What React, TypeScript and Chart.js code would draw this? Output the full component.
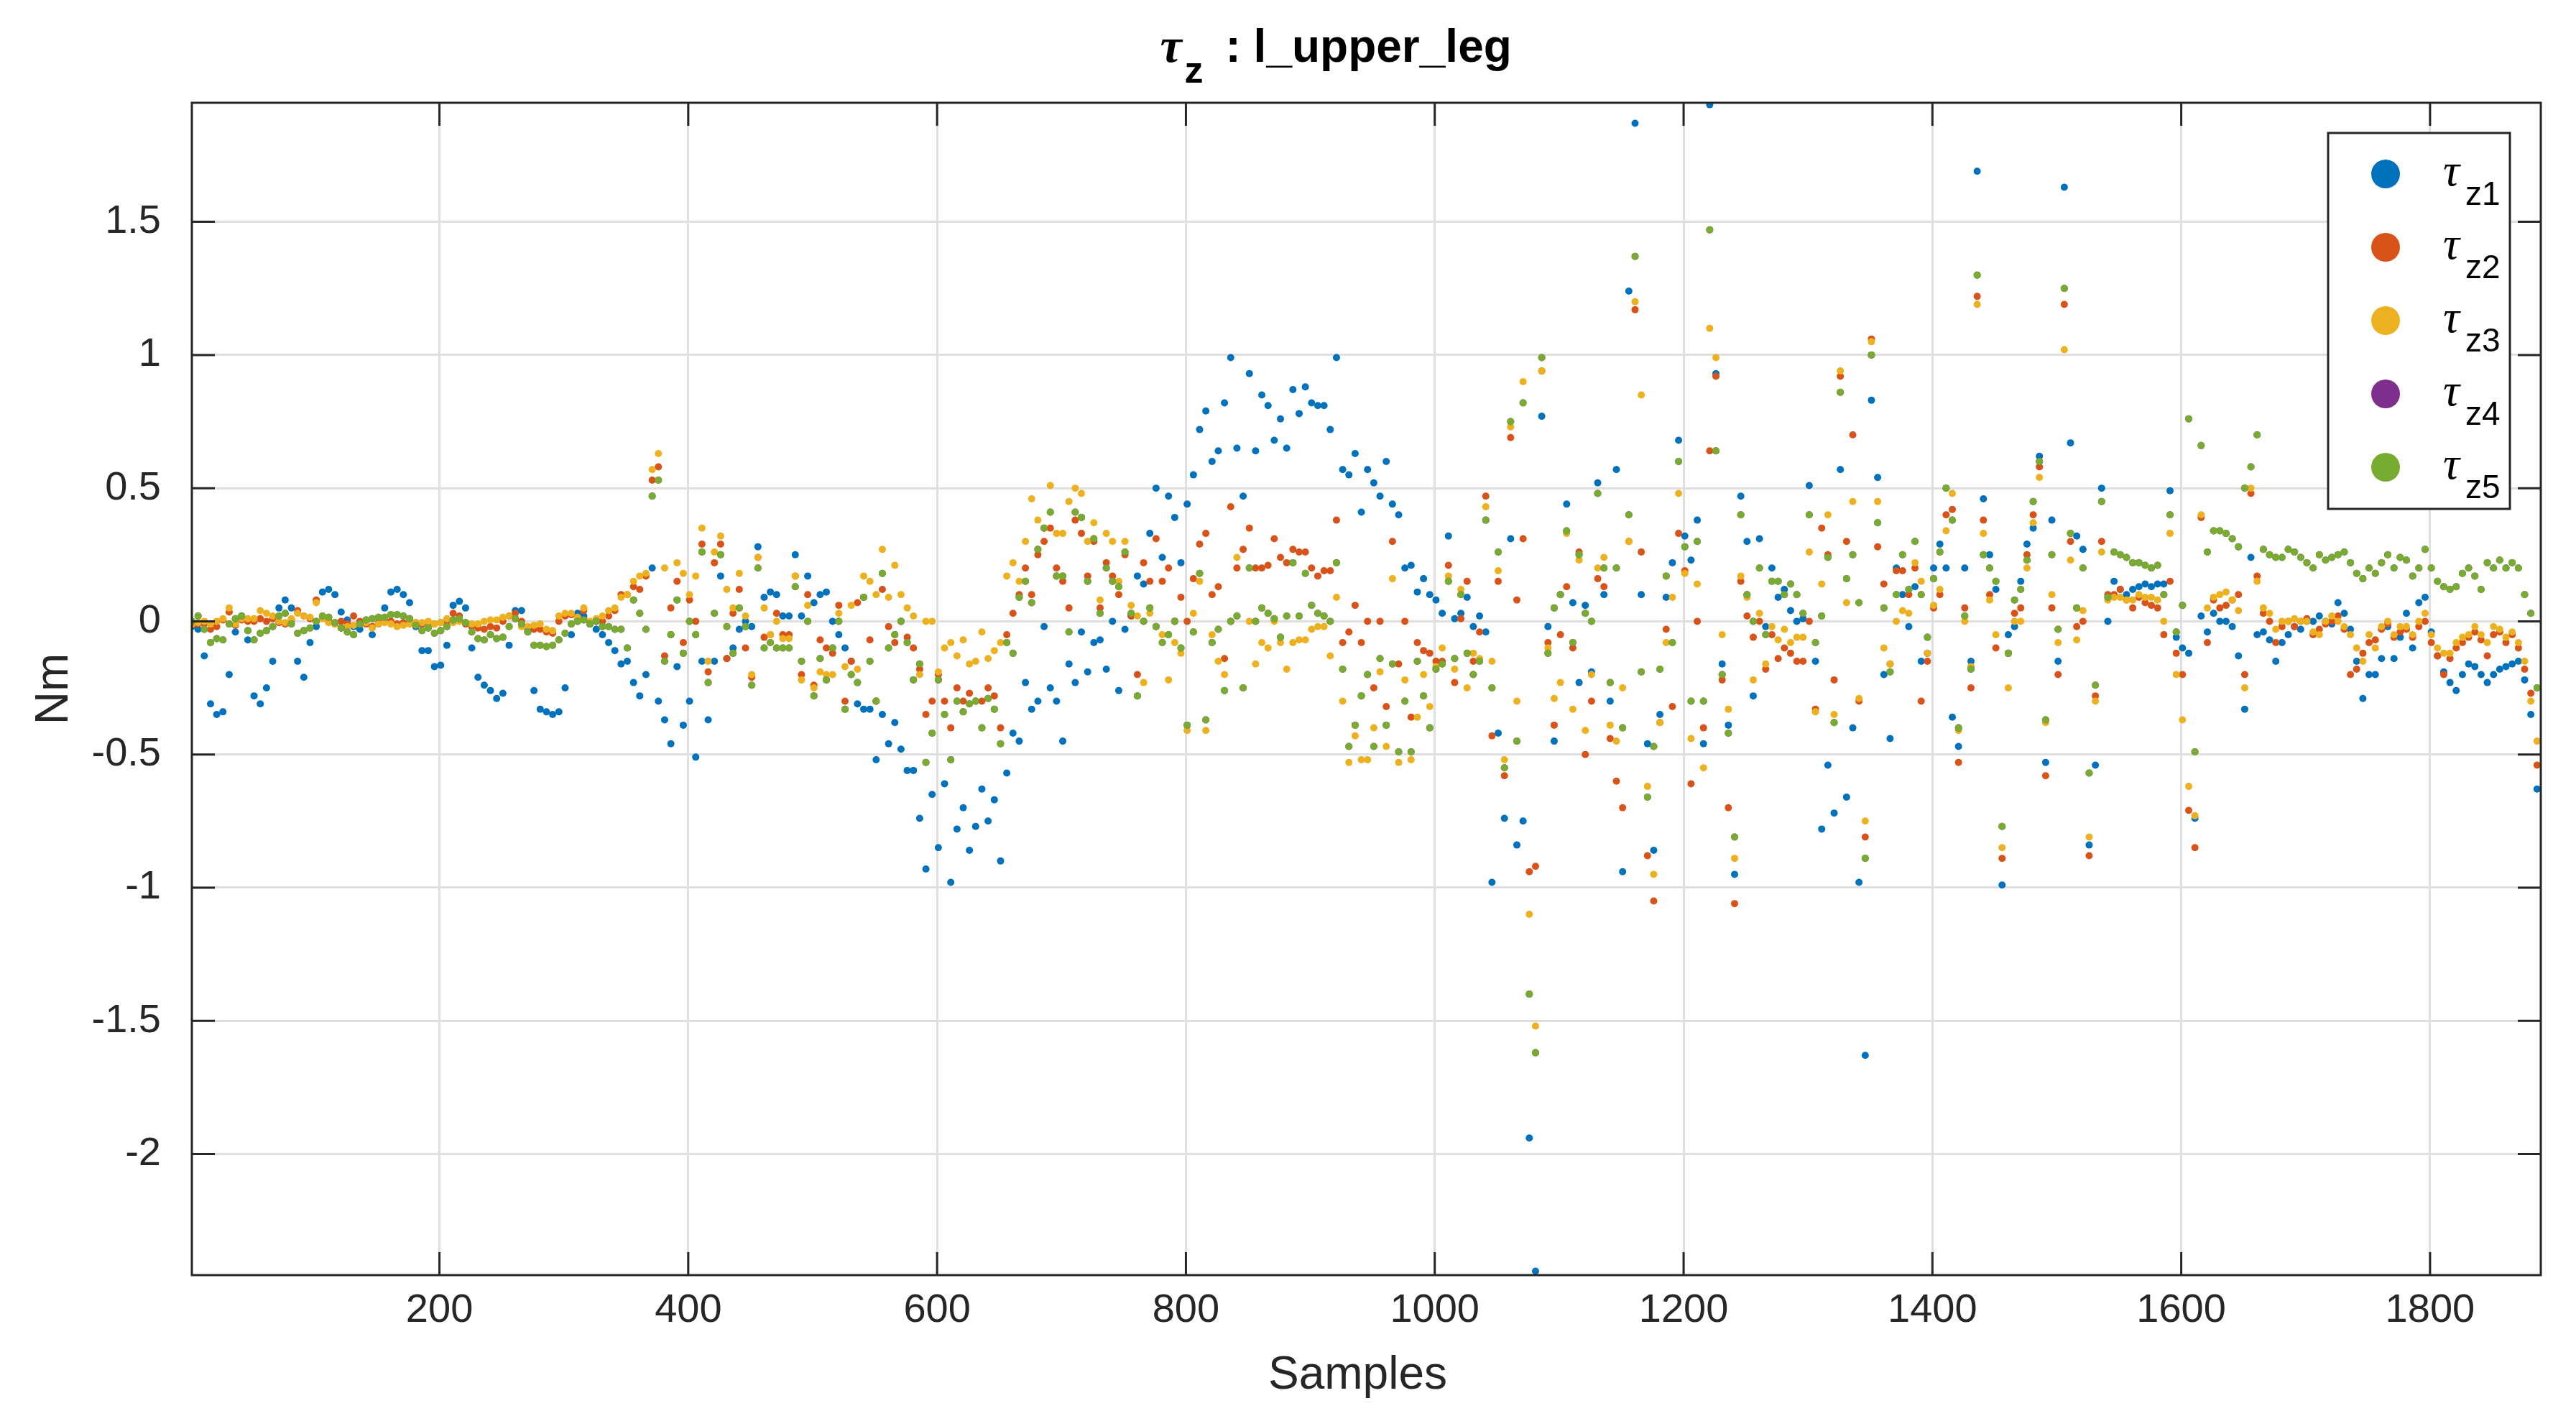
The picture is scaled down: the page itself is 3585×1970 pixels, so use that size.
import { useEffect, useRef } from 'react';
import { Chart, registerables } from 'chart.js';

Chart.register(...registerables);

// samples are read every 5th index, starting at 1
const firstSample = 1;
const sampleStep = 5;
const xTicks = [200, 400, 600, 800, 1000, 1200, 1400, 1600, 1800];
const yTicks = [-2, -1.5, -1, -0.5, 0, 0.5, 1, 1.5];

const tauZ1 = [
  -0.02, -0.03, -0.13, -0.31, -0.35, -0.34, -0.2, -0.04, 0.02, -0.07,
  -0.28, -0.31, -0.25, -0.15, 0.05, 0.08, 0.05, -0.15, -0.21, -0.08,
  -0.02, 0.11, 0.12, 0.1, 0.035, 0.005, -0.02, -0.03, 0, -0.05,
  -0.01, 0.05, 0.11, 0.12, 0.1, 0.07, -0.02, -0.11, -0.11, -0.17,
  -0.165, -0.09, 0.06, 0.075, 0.05, -0.1, -0.21, -0.24, -0.26, -0.29,
  -0.27, -0.09, 0.04, 0.04, -0.03, -0.26, -0.33, -0.34, -0.35, -0.34,
  -0.25, -0.05, 0.03, 0.02,
  -0.01, -0.03, -0.05, -0.08, -0.11, -0.16, -0.15, -0.23, -0.28, -0.2,
  0.2, -0.3, -0.37, -0.46, -0.17, -0.39, -0.3, -0.51, -0.15, -0.37,
  -0.15, 0.17, -0.14, -0.1, -0.03, 0, -0.02, 0.28, 0.09, 0.11,
  0.1, 0.02, 0.02, 0.25, 0.02, 0.17, 0.07, 0.1, 0.11, 0,
  -0.05, -0.1, -0.15, -0.31, -0.33, -0.33, -0.52, -0.35, -0.46, -0.38,
  -0.48, -0.56,
  -0.56, -0.74, -0.93, -0.65, -0.85, -0.61, -0.98, -0.78, -0.7, -0.86,
  -0.77, -0.63, -0.75, -0.67, -0.9, -0.57, -0.42, -0.45, -0.23, -0.33,
  -0.3, -0.02, -0.25, -0.3, -0.45, -0.16, -0.23, -0.04, -0.19, -0.08,
  -0.07, -0.18, 0, -0.26, -0.03, 0.02, 0.17, 0.14, 0.33, 0.5,
  0.24, 0.47, 0.39, 0.22, 0.44, 0.55, 0.72, 0.79, 0.6, 0.64,
  0.82, 0.99, 0.65, 0.47, 0.93,
  0.64, 0.85, 0.81, 0.68, 0.76, 0.65, 0.87, 0.78, 0.88, 0.82,
  0.81, 0.81, 0.72, 0.99, 0.57, 0.55, 0.63, 0.41, 0.57, 0.52,
  0.47, 0.6, 0.44, 0.4, 0.2, 0.21, 0.11, 0.16, 0.1, 0.08,
  0.03, 0.32, 0.01, 0.03, 0.09, -0.02, 0.02, -0.04, -0.98, -0.42,
  -0.74, 0.31, -0.84, -0.75, -1.94, -2.44, 0.77, -0.02, -0.45, 0.1,
  0.44, 0.07, -0.23, 0.06,
  -0.19, 0.52, 0.1, -0.3, 0.57, -0.94, 1.24, 1.87, 0.1, -0.46,
  -0.86, -0.35, 0.09, 0.22, 0.68, 0.32, 0.23, 0.38, -0.46, 1.94,
  0.93, -0.16, -0.39, -0.95, 0.47, 0.3, -0.28, 0.31, -0.02, 0.2,
  0.09, 0.12, 0.04, 0, 0.01, 0.51, -0.15, -0.78, -0.54, -0.72,
  0.57, -0.66, -0.4, -0.98, -1.63, 0.83, 0.54, -0.2, -0.44, 0.2,
  0.1, -0.02, 0.13, -0.15,
  -0.12, 0.2, 0.29, 0.2, -0.36, -0.47, 0.2, -0.15, 1.69, 0.46,
  0.25, 0.12, -0.99, -0.05, -0.02, 0.15, 0.29, 0.35, 0.62, -0.53,
  0.38, -0.15, 1.63, 0.67, 0.32, 0.27, -0.84, -0.54, 0.5, 0,
  0.15, 0.12, 0.1, 0.12, 0.13, 0.14, 0.13, 0.14, 0.14, 0.49,
  -0.06, -0.1, -0.12, -0.74, 0.02, -0.04, 0.03, 0, 0, -0.02,
  -0.13, -0.33, 0.24, -0.05,
  -0.04, -0.07, -0.15, -0.08, -0.05, -0.02, -0.03, 0, 0, 0.02,
  0, -0.01, 0.07, 0.03, -0.03, -0.15, -0.29, -0.2, -0.2, -0.14,
  -0.02, -0.14, -0.06, 0.03, -0.1, 0.07, 0.09, -0.04, -0.13, -0.19,
  -0.23, -0.26, -0.2, -0.16, -0.17, -0.2, -0.23, -0.2, -0.18, -0.17,
  -0.16, -0.15, -0.22, -0.35, -0.63,
];

const tauZ2 = [
  -0.015, -0.01, -0.01, -0.03, -0.02, 0.005, 0.035, -0.015, 0.005, 0,
  0, 0.01, 0, 0.01, -0.005, -0.01, 0.005, 0.04, 0.02, 0.01,
  0.08, 0.015, 0, -0.01, 0, -0.01, 0.02, 0, -0.01, -0.02,
  -0.005, 0, 0, -0.01, -0.005, 0.01, -0.005, -0.01, -0.005, -0.01,
  -0.005, 0, 0.03, 0.02, -0.01, -0.02, -0.025, -0.03, -0.02, -0.025,
  0, 0.02, 0.03, 0, -0.02, -0.03, -0.03, -0.04, -0.045, 0,
  0.02, 0.025, 0.01, 0.04,
  -0.01, 0, 0, 0.02, 0.04, 0.1, 0.1, 0.13, 0.12, 0.17,
  0.53, 0.58, -0.13, 0.05, 0.15, -0.08, 0.08, 0, 0.29, -0.19,
  0.22, 0.29, -0.14, 0.03, 0.12, -0.1, -0.21, 0.24, -0.06, -0.05,
  0.03, -0.05, -0.05, 0.17, -0.2, 0.1, -0.24, -0.07, -0.1, -0.12,
  0.06, -0.3, -0.15, 0.07, 0.09, -0.07, -0.3, 0.12, -0.02, -0.08,
  0, -0.06,
  -0.1, -0.18, -0.35, -0.3, -0.2, -0.3, -0.4, -0.25, -0.3, -0.27,
  -0.3, -0.3, -0.25, -0.28, -0.4, -0.05, 0.03, 0.1, 0.2, 0.1,
  0.25, 0.3, 0.35, 0.2, 0.15, 0.05, 0.38, 0.33, 0.17, 0.3,
  0.05, 0.22, 0.17, 0.1, 0.25, 0.02, -0.2, 0.22, 0.15, 0.31,
  0.15, 0.2, 0, 0.09, 0, 0.16, 0.29, 0.33, 0.1, 0.13,
  -0.14, 0.43, 0.2, 0.27, 0.35,
  0.2, 0.2, 0.21, 0.31, 0.24, 0.22, 0.27, 0.26, 0.26, 0.2,
  0.17, 0.19, 0.19, 0.38, -0.08, -0.04, 0.06, -0.08, 0, -0.25,
  0, -0.32, 0.3, -0.16, 0, -0.36, -0.08, -0.11, -0.12, -0.15,
  -0.15, 0.21, -0.23, 0.01, 0.15, -0.15, -0.04, 0.47, -0.43, 0.15,
  -0.58, 0.69, 0.08, 0.31, -0.94, -0.92, 0.94, -0.08, -0.39, -0.05,
  0.13, -0.1, 0.26, -0.5,
  -0.3, 0.16, 0.13, -0.44, -0.6, -0.7, 0.3, 1.17, 0.26, -0.88,
  -1.05, -0.38, -0.03, -0.32, 0.33, 0.19, -0.61, 0, -0.4, 0.64,
  0.92, -0.22, -0.7, -1.06, 0.15, 0.02, -0.06, 0, -0.18, -0.05,
  -0.14, -0.1, -0.12, -0.15, -0.15, 0, -0.33, 0.35, 0.25, -0.22,
  0.92, 0.3, 0.7, -0.3, -0.81, 1.06, 0.28, 0.14, -0.16, 0.19,
  0.19, 0.1, 0.2, -0.3,
  -0.15, 0.05, 0.1, 0.4, 0.42, -0.53, 0.05, -0.25, 1.22, 0.38,
  0.1, -0.1, -0.89, -0.12, 0.03, 0.05, 0.25, 0.4, 0.58, -0.58,
  0.05, -0.2, 1.19, 0.3, -0.02, 0, -0.88, -0.28, 0.3, 0.1,
  0.1, 0.12, 0.08, 0.05, 0.09, 0.07, 0.06, 0.05, -0.05, 0.15,
  -0.12, -0.2, -0.71, -0.85, 0.39, -0.08, 0.08, 0.05, 0.06, 0.08,
  0.1, -0.2, 0.48, 0.17,
  0.03, 0, -0.08, -0.02, 0, -0.02, 0, 0.01, -0.05, -0.03,
  -0.01, 0, 0.02, -0.03, -0.2, -0.18, -0.12, -0.08, -0.07, -0.03,
  -0.01, -0.06, -0.04, -0.03, -0.06, -0.02, 0, -0.08, -0.13, -0.2,
  -0.14, -0.1, -0.08, -0.06, -0.04, -0.07, -0.13, -0.05, -0.04, -0.08,
  -0.05, -0.1, -0.18, -0.27, -0.54,
];

const tauZ3 = [
  -0.01, -0.005, 0, -0.01, 0, 0.01, 0.05, -0.01, 0.01, 0.01,
  0.01, 0.04, 0.03, 0.02, 0, -0.005, 0.01, 0.03, 0.02, 0.015,
  0.07, 0.01, -0.005, -0.01, -0.025, -0.02, -0.015, -0.01, -0.005, -0.025,
  -0.01, -0.005, -0.01, -0.02, -0.015, -0.01, -0.005, -0.005, 0, -0.01,
  -0.005, 0.01, -0.005, 0, -0.005, -0.01, -0.01, 0, 0.005, 0.005,
  0.015, 0.02, 0.01, -0.02, -0.02, -0.015, -0.01, -0.03, -0.035, 0.02,
  0.03, 0.03, 0.015, 0.05,
  0, 0.01, 0.02, 0.04, 0.05, 0.09, 0.1, 0.15, 0.17, 0.18,
  0.57, 0.63, 0.2, -0.05, 0.22, 0.18, 0.1, 0.17, 0.35, -0.15,
  0.26, 0.32, 0.12, 0.05, 0.18, 0.02, -0.2, 0.24, 0.05, -0.05,
  0, -0.065, -0.065, 0.17, -0.22, 0.06, -0.25, -0.19, -0.2, -0.2,
  0.03, -0.17, 0.06, -0.18, 0.17, 0.15, 0.1, 0.27, 0.09, 0.21,
  0.1, 0.05,
  0.02, -0.2, 0, 0, -0.19, -0.1, -0.08, -0.13, -0.07, -0.16,
  -0.15, -0.04, -0.14, -0.11, -0.08, 0.17, 0.22, 0.15, 0.3, 0.46,
  0.38, 0.35, 0.51, 0.33, 0.33, 0.45, 0.5, 0.48, 0.3, 0.37,
  0.08, 0.33, 0.3, 0.15, 0.3, 0.06, 0.02, -0.23, 0.03, -0.02,
  -0.05, -0.22, -0.08, -0.12, -0.41, 0.03, 0.15, -0.41, -0.05, -0.15,
  -0.2, 0, 0.24, -0.25, 0,
  -0.16, -0.08, -0.1, 0, -0.08, -0.18, -0.08, -0.07, -0.07, -0.03,
  -0.02, -0.02, -0.13, 0.09, -0.3, -0.53, -0.43, -0.52, -0.52, -0.4,
  -0.19, -0.47, 0.16, -0.53, -0.22, -0.52, -0.36, -0.2, -0.32, -0.17,
  -0.1, 0.17, -0.18, 0.12, -0.25, -0.12, -0.14, 0.43, -0.15, 0.19,
  -0.52, 0.73, -0.3, 0.9, -1.1, -1.52, 0.94, -0.1, -0.29, -0.23,
  0.33, -0.33, 0.23, -0.41,
  -0.2, 0.2, 0.24, -0.39, -0.45, -0.25, 0.3, 1.2, 0.85, -0.62,
  -0.95, -0.38, -0.08, 0.09, 0.48, 0.18, -0.44, 0.14, -0.55, 1.1,
  0.99, -0.05, -0.33, -0.89, 0.17, 0.09, -0.22, 0.03, -0.16, -0.02,
  -0.07, -0.03, -0.08, -0.06, -0.06, 0.26, -0.34, 0.14, 0.4, -0.35,
  0.94, 0.07, 0.45, -0.29, -0.75, 1.05, 0.45, -0.1, -0.16, 0,
  0.04, 0.03, 0.22, 0.15,
  -0.12, 0.06, 0.12, 0.34, 0.48, -0.41, 0, -0.17, 1.19, 0.33,
  0.08, -0.05, -0.85, -0.25, 0, 0, 0.2, 0.37, 0.54, -0.38,
  0.1, -0.08, 1.02, 0.23, -0.07, 0.04, -0.81, -0.3, 0.26, 0.08,
  0.09, 0.09, 0.08, 0.08, 0.1, 0.09, 0.09, 0.08, 0, 0.33,
  -0.2, -0.37, -0.62, -0.73, 0.4, 0.05, 0.09, 0.1, 0.11, 0.08,
  0.04, -0.25, 0.5, 0.15,
  0.05, 0.03, -0.03, 0, 0, 0.01, 0, 0, -0.04, -0.05,
  0, 0.02, 0, -0.02, -0.05, -0.1, -0.15, -0.05, -0.1, -0.02,
  0, -0.05, -0.02, -0.02, -0.05, 0, 0.03, -0.05, -0.1, -0.12,
  -0.12, -0.08, -0.06, -0.05, -0.02, -0.05, -0.08, -0.02, -0.03, -0.06,
  -0.04, -0.08, -0.15, -0.3, -0.45,
];

const tauZ5 = [
  0, 0.02, -0.03, -0.08, -0.065, -0.07, -0.01, 0.01, 0.02, -0.035,
  -0.07, -0.045, -0.035, -0.02, 0.02, 0.03, -0.01, -0.045, -0.035, -0.025,
  0, 0.02, 0.015, -0.005, -0.025, -0.04, -0.05, -0.01, 0.005, 0.01,
  0.015, 0.015, 0.025, 0.025, 0.02, 0.01, -0.015, -0.035, -0.025, -0.045,
  -0.035, -0.02, 0.005, 0.01, -0.005, -0.04, -0.065, -0.07, -0.05, -0.065,
  -0.06, -0.02, 0.01, -0.01, -0.04, -0.09, -0.09, -0.095, -0.09, -0.07,
  -0.045, -0.01, 0, 0.005,
  -0.01, 0, -0.02, -0.02, -0.03, -0.03, -0.1, 0.08, 0.03, -0.03,
  0.47, 0.53, -0.15, -0.05, 0.08, -0.12, 0, -0.05, 0.26, -0.23,
  0.03, 0.25, -0.02, -0.12, 0.05, -0.02, -0.24, 0.2, -0.1, -0.08,
  -0.1, -0.1, -0.1, 0.13, -0.15, 0, -0.28, -0.14, -0.22, -0.1,
  0, -0.33, -0.2, -0.23, 0.09, -0.15, -0.3, 0.18, -0.1, -0.05,
  0, -0.08,
  -0.22, -0.16, -0.53, -0.42, -0.22, -0.35, -0.52, -0.3, -0.34, -0.31,
  -0.3, -0.4, -0.29, -0.33, -0.46, -0.08, -0.12, 0.09, 0.15, 0.07,
  0.27, 0.35, 0.41, 0.17, 0.17, -0.04, 0.41, 0.39, 0.15, 0.31,
  0.03, 0.2, 0.15, 0.13, 0.26, 0.03, -0.28, 0, 0.05, -0.02,
  -0.08, -0.05, 0, -0.1, -0.39, -0.04, 0.18, -0.37, -0.08, -0.03,
  -0.26, 0, 0.02, -0.25, 0.2,
  0, 0.05, 0.03, 0.01, -0.06, 0.02, 0.22, 0.02, 0.18, 0.06,
  0.03, 0.02, 0, 0.22, -0.18, -0.47, -0.39, -0.28, -0.2, -0.47,
  -0.14, -0.39, -0.16, -0.49, -0.3, -0.49, -0.15, -0.28, -0.4, -0.18,
  -0.16, 0.15, -0.14, 0.1, -0.12, -0.2, -0.15, 0.38, -0.25, 0.26,
  -0.55, 0.75, -0.45, 0.82, -1.4, -1.62, 0.99, -0.12, 0.05, 0.1,
  0.34, -0.08, 0.25, 0.03,
  0, 0.48, 0.2, -0.23, 0.2, -0.4, 0.4, 1.37, -0.19, -0.66,
  -0.47, -0.18, 0.17, -0.08, 0.6, 0.28, -0.3, 0.3, -0.3, 1.47,
  0.64, -0.2, -0.42, -0.81, 0.4, 0.1, 0, 0.2, -0.05, 0.15,
  0.15, 0.1, 0.14, 0.1, 0.03, 0.4, -0.08, 0.02, 0.24, -0.38,
  0.86, 0.16, 0.25, 0.07, -0.89, 1, 0.37, 0.05, -0.19, 0.1,
  0.25, 0.12, 0.3, 0.1,
  -0.06, 0.16, 0.26, 0.5, 0.38, -0.4, 0.02, -0.18, 1.3, 0.25,
  0.2, 0.15, -0.77, -0.12, 0.08, 0.12, 0.23, 0.45, 0.6, -0.37,
  0.25, -0.03, 1.25, 0.33, 0.05, 0.2, -0.57, -0.24, 0.45, 0.09,
  0.26, 0.25, 0.24, 0.22, 0.22, 0.21, 0.2, 0.21, 0.1, 0.4,
  -0.04, 0.06, 0.76, -0.49, 0.66, 0.26, 0.34, 0.34, 0.33, 0.31,
  0.28, 0.5, 0.58, 0.7,
  0.27, 0.25, 0.24, 0.24, 0.27, 0.26, 0.24, 0.22, 0.2, 0.25,
  0.23, 0.24, 0.25, 0.26, 0.22, 0.18, 0.16, 0.2, 0.18, 0.22,
  0.25, 0.2, 0.24, 0.23, 0.17, 0.2, 0.27, 0.2, 0.15, 0.13,
  0.12, 0.13, 0.18, 0.2, 0.17, 0.12, 0.22, 0.2, 0.23, 0.2,
  0.22, 0.2, 0.1, 0.03, -0.25,
];

// tau_z4 lies completely under tau_z5 in the figure, no dot of it shows
const tauZ4 = tauZ5;

const seriesValues = [tauZ1, tauZ2, tauZ3, tauZ4, tauZ5];
const seriesSubs = ['z1', 'z2', 'z3', 'z4', 'z5'];
const seriesColors = ['#0072BD', '#D95319', '#EDB120', '#7E2F8E', '#77AC30'];

const W = 3585;
const H = 1970;
const ink = '#262626';
const sans = "'Liberation Sans', Arial, Helvetica, sans-serif";
const serif = "'Liberation Serif', 'Times New Roman', serif";
const tickLen = 32;

const frame = {
  id: 'matlabFrame',
  afterDatasetsDraw(chart: Chart) {
    const { ctx, chartArea: a, scales } = chart;
    ctx.save();
    // box + inward ticks
    ctx.strokeStyle = ink;
    ctx.lineWidth = 3;
    ctx.beginPath();
    yTicks.forEach((v) => {
      const p = scales.y.getPixelForValue(v);
      ctx.moveTo(a.left, p);
      ctx.lineTo(a.left + tickLen, p);
      ctx.moveTo(a.right, p);
      ctx.lineTo(a.right - tickLen, p);
    });
    xTicks.forEach((v) => {
      const p = scales.x.getPixelForValue(v);
      ctx.moveTo(p, a.bottom);
      ctx.lineTo(p, a.bottom - tickLen);
      ctx.moveTo(p, a.top);
      ctx.lineTo(p, a.top + tickLen);
    });
    ctx.stroke();
    ctx.strokeRect(a.left, a.top, a.right - a.left, a.bottom - a.top);

    // legend
    const lx = 3240, ly = 185, lw = 253, lh = 523;
    ctx.fillStyle = '#fff';
    ctx.fillRect(lx, ly, lw, lh);
    ctx.lineWidth = 3;
    ctx.strokeRect(lx, ly, lw, lh);
    seriesSubs.forEach((sub, i) => {
      const cy = 242 + i * 102;
      ctx.fillStyle = seriesColors[i];
      ctx.beginPath();
      ctx.arc(3320, cy, 20, 0, Math.PI * 2);
      ctx.fill();
      ctx.fillStyle = '#000';
      ctx.textAlign = 'left';
      ctx.textBaseline = 'alphabetic';
      ctx.font = `italic 64px ${serif}`;
      ctx.fillText('τ', 3400, cy + 16);
      ctx.font = `46px ${sans}`;
      ctx.fillText(sub, 3431, cy + 43);
    });
    ctx.restore();
  },
  afterDraw(chart: Chart) {
    const { ctx, chartArea: a } = chart;
    const cx = (a.left + a.right) / 2;
    ctx.save();
    ctx.fillStyle = '#000';
    ctx.textBaseline = 'alphabetic';
    ctx.textAlign = 'left';
    // title: tau_z : l_upper_leg
    const x0 = cx - 287;
    ctx.font = `italic bold 68px ${serif}`;
    ctx.fillText('τ', x0, 86);
    ctx.font = `bold 52px ${sans}`;
    ctx.fillText('z', x0 + 34, 115);
    ctx.font = `bold 64px ${sans}`;
    ctx.fillText(': l_upper_leg', x0 + 91, 86);

    // axis labels
    ctx.fillStyle = ink;
    ctx.textAlign = 'center';
    ctx.font = `64px ${sans}`;
    ctx.fillText('Samples', cx - 12, 1932);
    ctx.translate(94, (a.top + a.bottom) / 2);
    ctx.rotate(-Math.PI / 2);
    ctx.fillText('Nm', 0, 0);
    ctx.restore();
  },
};

const App = () => {
  const chartRef = useRef<HTMLCanvasElement>(null);

  useEffect(() => {
    if (!chartRef.current) return;

    const samples = tauZ1.map((_, i) => firstSample + i * sampleStep);

    const chart = new Chart(chartRef.current, {
      type: 'scatter',
      data: {
        datasets: seriesValues.map((vals, i) => ({
          label: `τ${seriesSubs[i]}`,
          data: vals.map((y, j) => ({ x: samples[j], y })),
          backgroundColor: seriesColors[i],
          borderWidth: 0,
          pointRadius: 5,
          pointHoverRadius: 5,
          // MATLAB draws tau_z1 first, tau_z5 ends on top
          order: seriesValues.length - i,
        })),
      },
      options: {
        responsive: false,
        animation: false,
        devicePixelRatio: 1,
        events: [],
        layout: { padding: { left: 0, top: 143, right: 49, bottom: 0 } },
        plugins: {
          legend: { display: false },
          title: { display: false },
          tooltip: { enabled: false },
        },
        scales: {
          x: {
            type: 'linear',
            min: 1,
            max: 1889,
            afterBuildTicks: (axis) => {
              axis.ticks = xTicks.map((value) => ({ value }));
            },
            afterFit: (axis) => {
              axis.height = 196;
            },
            border: { display: false },
            grid: { color: '#dfdfdf', lineWidth: 3, drawTicks: false },
            ticks: {
              autoSkip: false,
              maxRotation: 0,
              padding: 16,
              color: ink,
              font: { family: sans, size: 56 },
              callback: (v) => String(v),
            },
          },
          y: {
            type: 'linear',
            min: -2.455,
            max: 1.947,
            afterBuildTicks: (axis) => {
              axis.ticks = yTicks.map((value) => ({ value }));
            },
            afterFit: (axis) => {
              axis.width = 267;
            },
            border: { display: false },
            grid: { color: '#dfdfdf', lineWidth: 3, drawTicks: false },
            ticks: {
              padding: 43,
              color: ink,
              font: { family: sans, size: 56 },
              callback: (v) => String(v),
            },
          },
        },
      },
      plugins: [frame],
    });

    return () => {
      chart.destroy();
    };
  }, []);

  return (
    <div style={{ position: 'fixed', left: 0, top: 0, width: W, height: H, background: '#fff' }}>
      <canvas ref={chartRef} width={W} height={H} style={{ display: 'block' }} />
    </div>
  );
};

export default App;
